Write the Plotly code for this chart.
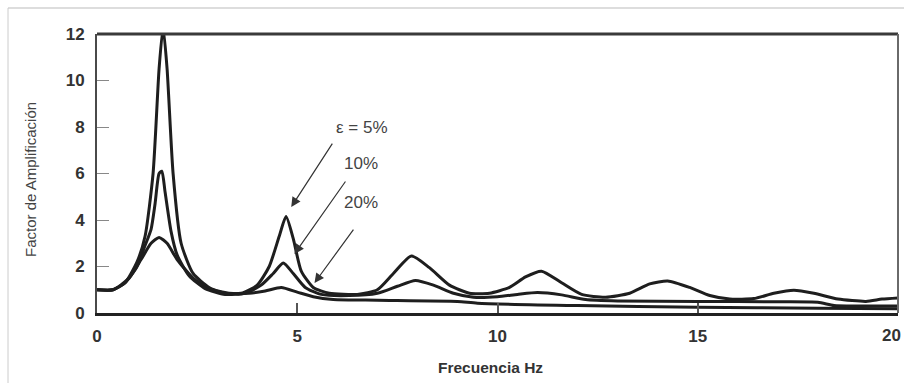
import plotly.graph_objects as go

# Amplification factor vs frequency for three damping ratios
freq_5 = [0, 0.4, 0.7, 1.0, 1.2, 1.4, 1.55, 1.65, 1.75, 1.9, 2.1, 2.4, 2.8, 3.2, 3.6, 4.0,
          4.3, 4.55, 4.72, 4.9, 5.1, 5.4, 5.8, 6.5, 7.0, 7.4, 7.85, 8.3, 8.8, 9.3, 9.8,
          10.3, 10.7, 11.1, 11.6, 12.1, 12.7, 13.3, 13.8, 14.25, 14.8, 15.3, 15.8, 16.4,
          16.9, 17.4, 17.9, 18.5, 19.2, 19.6, 20.0]
amp_5 = [1.0, 1.0, 1.3, 2.2, 3.3, 6.0, 10.5, 12.3, 10.5, 6.0, 3.0, 1.7, 1.1, 0.85, 0.85, 1.2,
         2.0, 3.3, 4.15, 3.2, 1.8, 1.1, 0.85, 0.8, 1.0, 1.7, 2.45, 1.95, 1.2, 0.85, 0.85,
         1.1, 1.55, 1.8, 1.3, 0.8, 0.68, 0.85, 1.25, 1.38, 1.1, 0.75, 0.6, 0.62,
         0.85, 0.98, 0.85, 0.6, 0.5, 0.6, 0.65]

freq_10 = [0, 0.4, 0.7, 1.0, 1.2, 1.35, 1.45, 1.55, 1.62, 1.7, 1.85, 2.0, 2.3, 2.7, 3.2, 3.7,
           4.1, 4.4, 4.65, 4.9, 5.2, 5.6, 6.3, 7.0, 7.5, 7.95, 8.4, 8.9, 9.4, 10.0, 10.5,
           11.0, 11.6, 12.2, 13.0, 15.0, 17.0, 18.0, 18.4, 19.0, 20.0]
amp_10 = [1.0, 1.0, 1.3, 2.0, 2.9, 3.6, 4.7, 6.0, 6.1, 5.2, 3.5, 2.5, 1.6, 1.05, 0.8, 0.85,
          1.2, 1.7, 2.15, 1.7, 1.1, 0.8, 0.75, 0.85, 1.15, 1.4, 1.2, 0.85, 0.68, 0.7, 0.8,
          0.88, 0.78, 0.58, 0.52, 0.5, 0.48, 0.46, 0.32, 0.3, 0.3]

freq_20 = [0, 0.4, 0.8, 1.1, 1.35, 1.55, 1.75, 2.0, 2.4, 2.8, 3.3, 3.8, 4.2, 4.6, 5.0, 5.4,
           5.9, 7.0, 9.0, 9.5, 12.0, 15.0, 18.0, 20.0]
amp_20 = [1.0, 1.0, 1.5, 2.3, 3.0, 3.25, 3.0, 2.3, 1.5, 1.05, 0.85, 0.85, 0.95, 1.1, 0.9, 0.7,
          0.58, 0.55, 0.5, 0.42, 0.32, 0.25, 0.2, 0.18]

x_ticks = [0, 5, 10, 15, 20]
y_ticks = [0, 2, 4, 6, 8, 10, 12]

# Callout labels: text, arrow head (x, y), arrow tail (x, y), text position (x, y)
labels = ["\u03b5 = 5%", "10%", "20%"]
head_x = [4.85, 4.93, 5.43]
head_y = [4.56, 2.54, 1.29]
tail_x = [5.9, 6.23, 6.43]
tail_y = [7.35, 5.72, 3.65]
text_x = [6.62, 6.6, 6.6]
text_y = [8.0, 6.45, 4.77]

FONT = "Liberation Sans, Arial, sans-serif"

fig = go.Figure()
for fx, fy in [(freq_20, amp_20), (freq_10, amp_10), (freq_5, amp_5)]:
    fig.add_trace(go.Scatter(
        x=fx, y=fy, mode="lines",
        line=dict(color="#1e1e1e", width=3, shape="spline", smoothing=0.6),
        showlegend=False, hoverinfo="skip",
    ))

W, H = 904, 383
L, R, T, B = 97, 6, 34, 70
pw, ph = W - L - R, H - T - B


def px_to_paper(px, py):
    return (px - L) / pw, (H - B - py) / ph


annotations = []
for i, txt in enumerate(labels):
    annotations.append(dict(
        x=head_x[i], y=head_y[i], ax=tail_x[i], ay=tail_y[i],
        xref="x", yref="y", axref="x", ayref="y",
        text="", showarrow=True, arrowhead=2, arrowsize=1.6, arrowwidth=1.2,
        arrowcolor="#333333",
    ))
    annotations.append(dict(
        x=text_x[i], y=text_y[i], xref="x", yref="y", text=txt, showarrow=False,
        font=dict(family=FONT, size=17, color="#444444"),
    ))

# Axis titles
tx, ty = px_to_paper(30, 180)
annotations.append(dict(
    x=tx, y=ty, xref="paper", yref="paper", text="Factor de Amplificación",
    showarrow=False, textangle=-90, xanchor="center", yanchor="middle",
    font=dict(family=FONT, size=15, color="#444444"),
))
tx, ty = px_to_paper(490, 367)
annotations.append(dict(
    x=tx, y=ty, xref="paper", yref="paper", text="<b>Frecuencia Hz</b>",
    showarrow=False, xanchor="center", yanchor="middle",
    font=dict(family=FONT, size=15.5, color="#333333"),
))

shapes = []
# Frame: top and right edges of the plotting box
shapes.append(dict(type="line", xref="paper", yref="paper", x0=0, x1=1, y0=1, y1=1,
                   line=dict(color="#3a3a3a", width=3)))
shapes.append(dict(type="line", xref="paper", yref="paper", x0=1, x1=1, y0=0, y1=1,
                   line=dict(color="#6a6a6a", width=2)))
# Thin outer border along the top and left of the figure
x0p, y0p = px_to_paper(8, 8)
x1p, _ = px_to_paper(904, 8)
_, ybp = px_to_paper(8, 383)
shapes.append(dict(type="line", xref="paper", yref="paper", x0=x0p, x1=x1p, y0=y0p, y1=y0p,
                   line=dict(color="#bbbbbb", width=1)))
shapes.append(dict(type="line", xref="paper", yref="paper", x0=x0p, x1=x0p, y0=y0p, y1=ybp,
                   line=dict(color="#cccccc", width=1)))

tick_font = dict(family=FONT, size=17, color="#333333", weight="bold")

# The last x tick label is right-aligned against the figure edge
lx, ly = px_to_paper(903, 335)
annotations.append(dict(
    x=lx, y=ly, xref="paper", yref="paper", text=str(x_ticks[-1]),
    showarrow=False, xanchor="right", yanchor="middle", font=tick_font,
))

fig.update_layout(
    width=W, height=H,
    margin=dict(l=L, r=R, t=T, b=B),
    paper_bgcolor="white", plot_bgcolor="white",
    xaxis=dict(
        range=[0, 20], tickvals=x_ticks, ticktext=[str(v) for v in x_ticks[:-1]] + [""],
        showgrid=False, zeroline=False, showline=True, linecolor="#222222", linewidth=3,
        ticks="inside", ticklen=10, tickwidth=1.5, tickcolor="#555555",
        tickfont=tick_font, ticklabelstandoff=6,
    ),
    yaxis=dict(
        range=[0, 12], tickvals=y_ticks, ticktext=[str(v) for v in y_ticks],
        showgrid=False, zeroline=False, showline=True, linecolor="#4a4a4a", linewidth=2,
        ticks="inside", ticklen=12, tickwidth=1.2, tickcolor="#888888",
        tickfont=tick_font, ticklabelstandoff=7,
    ),
    annotations=annotations,
    shapes=shapes,
)

fig.write_html("out.html")
